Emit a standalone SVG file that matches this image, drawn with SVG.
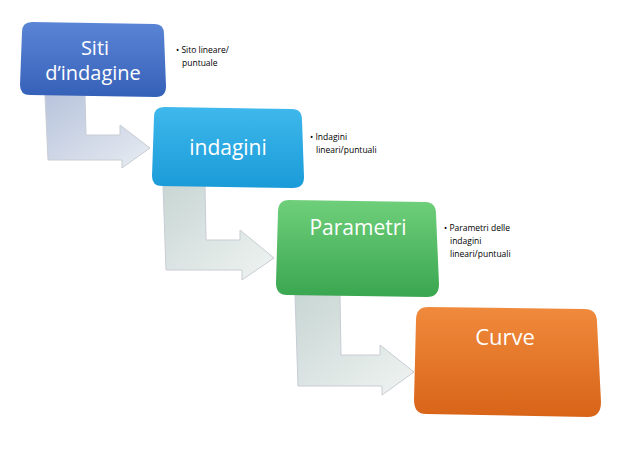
<svg xmlns="http://www.w3.org/2000/svg" width="638" height="466" viewBox="0 0 638 466">
<defs>
<linearGradient id="gb" x1="0" y1="0" x2="0" y2="1"><stop offset="0" stop-color="#5b86d6"/><stop offset="1" stop-color="#3560b8"/></linearGradient>
<linearGradient id="gc" x1="0" y1="0" x2="0" y2="1"><stop offset="0" stop-color="#3fb8ec"/><stop offset="1" stop-color="#1a9bd8"/></linearGradient>
<linearGradient id="gg" x1="0" y1="0" x2="0" y2="1"><stop offset="0" stop-color="#6fcf7a"/><stop offset="1" stop-color="#3aa650"/></linearGradient>
<linearGradient id="go" x1="0" y1="0" x2="0" y2="1"><stop offset="0" stop-color="#f08a3c"/><stop offset="1" stop-color="#d86418"/></linearGradient>
<linearGradient id="ga" x1="0" y1="0" x2="1" y2="1"><stop offset="0" stop-color="#b8c4dc"/><stop offset="1" stop-color="#e8ecf2"/></linearGradient>
<linearGradient id="ga2" x1="0" y1="0" x2="1" y2="1"><stop offset="0" stop-color="#c8d6d4"/><stop offset="1" stop-color="#f0f4f2"/></linearGradient>
</defs>
<style>
.t{font-family:"Open Sans","Liberation Sans",sans-serif;fill:#fff}
.s{font-family:"Open Sans","Liberation Sans",sans-serif;font-size:8.5px;fill:#000}
.ar{stroke:#c8ccd4;stroke-width:1}
</style>
<g id="connectors">
<path class="ar" fill="url(#ga)" d="M45,95 L85,95 L86,135 L120,135 L120,125 L150,148 L122,168 L122,160 L48,160 Z"/>
<path class="ar" fill="url(#ga2)" d="M163,186 L205,186 L206,240 L240,240 L240,230 L274,258 L242,280 L242,270 L166,270 Z"/>
<path class="ar" fill="url(#ga2)" d="M295,295 L340,295 L341,355 L380,355 L380,345 L414,372 L382,395 L382,386 L298,386 Z"/>
</g>
<g id="n1">
<path d="M32,22 L155,24 Q164,24 164,34 L166,86 Q166,97 156,97 L30,95 Q20,95 20,85 L22,32 Q22,22 32,22 Z" fill="url(#gb)"/>
<text class="t" x="95" y="55" font-size="20" text-anchor="middle">Siti</text>
<text class="t" x="93" y="80" font-size="20" text-anchor="middle">d’indagine</text>
</g>
<g id="l1"><text class="s" x="176" y="53">• Sito lineare/</text><text class="s" x="182" y="66">puntuale</text></g>
<g id="n2">
<path d="M164,107 L292,109 Q302,109 302,120 L304,177 Q304,188 293,188 L162,186 Q152,186 152,176 L154,117 Q154,107 164,107 Z" fill="url(#gc)"/>
<text class="t" x="228" y="155" font-size="21" text-anchor="middle">indagini</text>
</g>
<g id="l2"><text class="s" x="310" y="140">• Indagini</text><text class="s" x="316" y="153">lineari/puntuali</text></g>
<g id="n3">
<path d="M289,200 L425,202 Q436,202 436,214 L439,284 Q439,297 427,297 L287,295 Q276,295 276,283 L278,212 Q278,200 289,200 Z" fill="url(#gg)"/>
<text class="t" x="358" y="235" font-size="21" text-anchor="middle">Parametri</text>
</g>
<g id="l3"><text class="s" x="444" y="231">• Parametri delle</text><text class="s" x="450" y="244">indagini</text><text class="s" x="450" y="257">lineari/puntuali</text></g>
<g id="n4">
<path d="M428,307 L584,309 Q597,309 597,322 L601,402 Q601,417 588,417 L426,414 Q414,414 414,400 L416,320 Q416,307 428,307 Z" fill="url(#go)"/>
<text class="t" x="505" y="345" font-size="22" text-anchor="middle">Curve</text>
</g>
</svg>
